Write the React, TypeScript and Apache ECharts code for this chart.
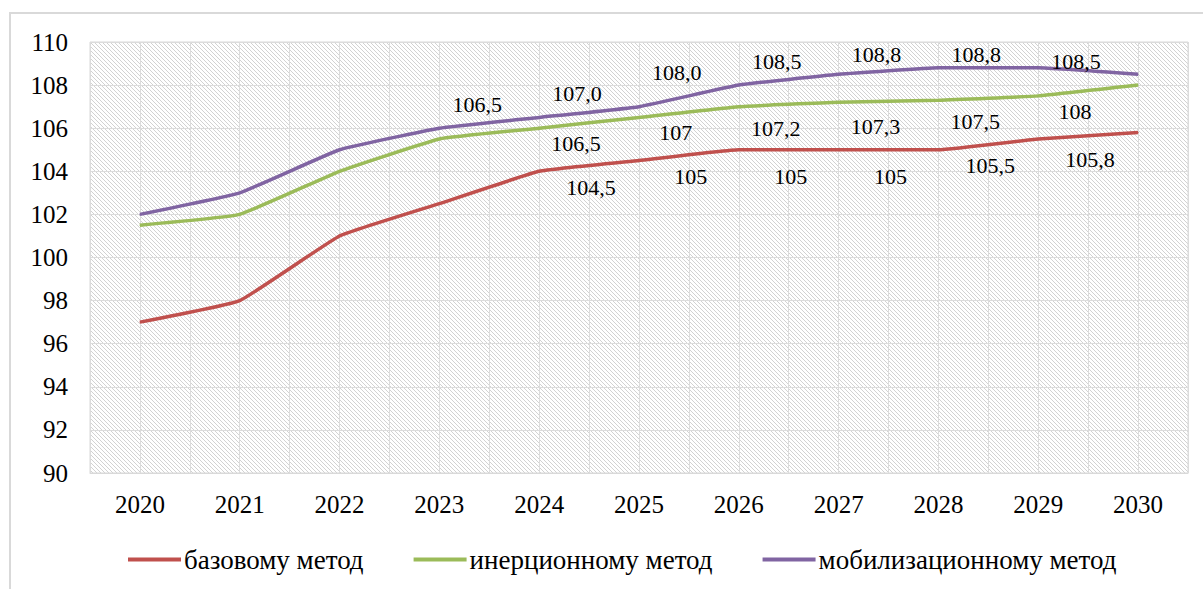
import React, { useEffect, useRef } from "react";
import * as echarts from "echarts";

const categories = ["2020", "2021", "2022", "2023", "2024", "2025", "2026", "2027", "2028", "2029", "2030"];
const seriesNames = ["базовому метод", "инерционному метод", "мобилизационному метод"];
const baseValues = [97, 98, 101, 102.5, 104, 104.5, 105, 105, 105, 105.5, 105.8];
const inertialValues = [101.5, 102, 104, 105.5, 106, 106.5, 107, 107.2, 107.3, 107.5, 108];
const mobilValues = [102, 103, 105, 106, 106.5, 107, 108, 108.5, 108.8, 108.8, 108.5];
const yMin = 90;
const yMax = 110;
const yStep = 2;

const FONT = "Liberation Serif";

function makeHatch(): string {
  const c = document.createElement("canvas");
  c.width = 4;
  c.height = 4;
  const ctx = c.getContext("2d")!;
  ctx.fillStyle = "#ffffff";
  ctx.fillRect(0, 0, 4, 4);
  ctx.fillStyle = "#d2d2d2";
  for (let i = 0; i < 4; i++) ctx.fillRect(i, i, 1, 1);
  return c.toDataURL();
}

export default function App() {
  const ref = useRef<HTMLDivElement>(null);
  useEffect(() => {
    if (!ref.current) return;
    const chart = echarts.init(ref.current, null, { renderer: "svg" });
    const hatch = makeHatch();
    const lbl = (fromIdx: number, fixed: boolean) => (p: any) =>
      p.dataIndex < fromIdx ? "" : (fixed ? Number(p.value).toFixed(1) : String(p.value)).replace(".", ",");
    const mkSeries = (name: string, data: number[], color: string, fromIdx: number, fixed: boolean, offset: number[]) => ({
      name,
      type: "line",
      data,
      smooth: 0.1,
      symbol: "circle",
      symbolSize: 1,
      showSymbol: true,
      itemStyle: { color },
      lineStyle: { color, width: 3.5 },
      label: {
        show: true,
        position: "inside",
        offset,
        formatter: lbl(fromIdx, fixed),
        fontFamily: FONT,
        fontSize: 22,
        color: "#000",
      },
      xAxisIndex: 0,
      yAxisIndex: 0,
      z: 3,
    });
    chart.setOption({
      animation: false,
      backgroundColor: "#ffffff",
      textStyle: { fontFamily: FONT },
      grid: {
        left: 90,
        right: 15,
        top: 42,
        bottom: 116,
        show: true,
        backgroundColor: { image: hatch, repeat: "repeat", imageWidth: 4, imageHeight: 4 } as any,
        borderColor: "#d9d9d9",
        borderWidth: 1,
      },
      legend: {
        left: 123,
        top: 541,
        itemWidth: 53,
        itemHeight: 4,
        itemGap: 50,
        icon: "rect",
        textStyle: { fontFamily: FONT, fontSize: 27, color: "#000", padding: [0, 0, 0, -2] },
        data: seriesNames,
      },
      xAxis: [
        {
          type: "category",
          data: categories,
          boundaryGap: true,
          axisLine: { show: true, lineStyle: { color: "#d9d9d9" } },
          axisTick: { show: false },
          splitLine: { show: false },
          axisLabel: { fontFamily: FONT, fontSize: 25, color: "#000", margin: 19 },
        },
        {
          type: "value",
          min: 0,
          max: categories.length * 2,
          interval: 1,
          show: true,
          position: "bottom",
          axisLine: { show: false },
          axisTick: { show: false },
          axisLabel: { show: false },
          splitLine: { show: true, lineStyle: { color: "#dcdcdc", width: 1 } },
        },
      ],
      yAxis: {
        type: "value",
        min: yMin,
        max: yMax,
        interval: yStep,
        axisLine: { show: false },
        axisTick: { show: false },
        axisLabel: { fontFamily: FONT, fontSize: 25, color: "#000", margin: 22 },
        splitLine: { show: true, lineStyle: { color: "#dcdcdc", width: 1 } },
      },
      graphic: [
        {
          type: "rect",
          shape: { x: 10, y: 13, width: 1400, height: 800 },
          style: { fill: "none", stroke: "#d9d9d9", lineWidth: 2 },
          silent: true,
        },
      ],
      series: [
        mkSeries(seriesNames[0], baseValues, "#c0504d", 5, false, [-48, 27]),
        mkSeries(seriesNames[1], inertialValues, "#9bbb59", 5, false, [-63, 26]),
        mkSeries(seriesNames[2], mobilValues, "#8064a2", 4, true, [-62, -13]),
      ],
    });
    return () => chart.dispose();
  }, []);
  return (
    <div
      ref={ref}
      style={{ position: "fixed", left: 0, top: 0, width: 1203, height: 589, background: "#fff" }}
    />
  );
}
